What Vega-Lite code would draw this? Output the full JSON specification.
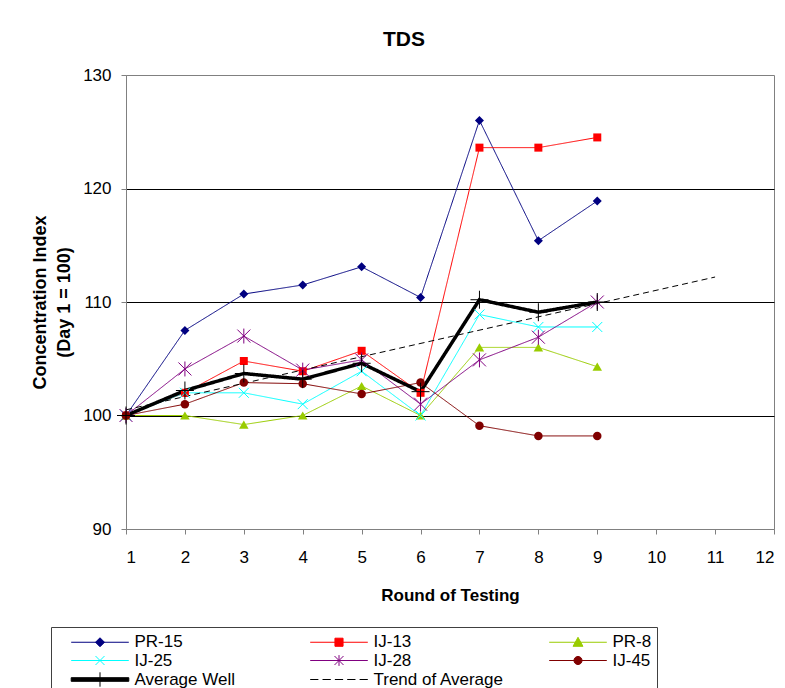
{
  "$schema": "https://vega.github.io/schema/vega-lite/v6.json",
  "width": 648,
  "height": 454,
  "autosize": {"type": "none"},
  "padding": {"left": 126, "top": 75, "right": 11, "bottom": 159},
  "background": "white",
  "title": {"text": "TDS", "font": "Liberation Sans", "fontSize": 21, "fontWeight": "bold", "color": "black", "anchor": "middle", "frame": "group", "dx": -46, "offset": -1, "baseline": "alphabetic"},
  "config": {
    "font": "Liberation Sans",
    "view": {"stroke": "#808080", "strokeWidth": 1},
    "axis": {"domainColor": "#808080", "tickColor": "#808080", "tickSize": 5, "labelColor": "black", "labelFont": "Liberation Sans", "labelFontSize": 17, "titleFont": "Liberation Sans", "titleFontSize": 18, "titleFontWeight": "bold", "titleColor": "black"}
  },
  "data": {"values": [
    {"series": "PR-15", "round": 1, "value": 100},
    {"series": "PR-15", "round": 2, "value": 107.5},
    {"series": "PR-15", "round": 3, "value": 110.7},
    {"series": "PR-15", "round": 4, "value": 111.5},
    {"series": "PR-15", "round": 5, "value": 113.1},
    {"series": "PR-15", "round": 6, "value": 110.4},
    {"series": "PR-15", "round": 7, "value": 126.0},
    {"series": "PR-15", "round": 8, "value": 115.4},
    {"series": "PR-15", "round": 9, "value": 118.9},
    {"series": "IJ-13", "round": 1, "value": 100},
    {"series": "IJ-13", "round": 2, "value": 102.0},
    {"series": "IJ-13", "round": 3, "value": 104.8},
    {"series": "IJ-13", "round": 4, "value": 103.9},
    {"series": "IJ-13", "round": 5, "value": 105.7},
    {"series": "IJ-13", "round": 6, "value": 102.0},
    {"series": "IJ-13", "round": 7, "value": 123.6},
    {"series": "IJ-13", "round": 8, "value": 123.6},
    {"series": "IJ-13", "round": 9, "value": 124.5},
    {"series": "PR-8", "round": 1, "value": 100},
    {"series": "PR-8", "round": 2, "value": 100},
    {"series": "PR-8", "round": 3, "value": 99.2},
    {"series": "PR-8", "round": 4, "value": 100},
    {"series": "PR-8", "round": 5, "value": 102.6},
    {"series": "PR-8", "round": 6, "value": 100},
    {"series": "PR-8", "round": 7, "value": 106.0},
    {"series": "PR-8", "round": 8, "value": 106.0},
    {"series": "PR-8", "round": 9, "value": 104.3},
    {"series": "IJ-25", "round": 1, "value": 100},
    {"series": "IJ-25", "round": 2, "value": 102.0},
    {"series": "IJ-25", "round": 3, "value": 102.0},
    {"series": "IJ-25", "round": 4, "value": 101.0},
    {"series": "IJ-25", "round": 5, "value": 103.9},
    {"series": "IJ-25", "round": 6, "value": 100},
    {"series": "IJ-25", "round": 7, "value": 108.9},
    {"series": "IJ-25", "round": 8, "value": 107.8},
    {"series": "IJ-25", "round": 9, "value": 107.8},
    {"series": "IJ-28", "round": 1, "value": 100},
    {"series": "IJ-28", "round": 2, "value": 104.1},
    {"series": "IJ-28", "round": 3, "value": 107.0},
    {"series": "IJ-28", "round": 4, "value": 104.0},
    {"series": "IJ-28", "round": 5, "value": 104.9},
    {"series": "IJ-28", "round": 6, "value": 101.0},
    {"series": "IJ-28", "round": 7, "value": 104.9},
    {"series": "IJ-28", "round": 8, "value": 106.9},
    {"series": "IJ-28", "round": 9, "value": 110.0},
    {"series": "IJ-45", "round": 1, "value": 100},
    {"series": "IJ-45", "round": 2, "value": 101.0},
    {"series": "IJ-45", "round": 3, "value": 102.9},
    {"series": "IJ-45", "round": 4, "value": 102.8},
    {"series": "IJ-45", "round": 5, "value": 101.9},
    {"series": "IJ-45", "round": 6, "value": 102.9},
    {"series": "IJ-45", "round": 7, "value": 99.1},
    {"series": "IJ-45", "round": 8, "value": 98.2},
    {"series": "IJ-45", "round": 9, "value": 98.2},
    {"series": "Trend of Average", "round": 1, "value": 100.5},
    {"series": "Trend of Average", "round": 11, "value": 112.2},
    {"series": "Average Well", "round": 1, "value": 100},
    {"series": "Average Well", "round": 2, "value": 102.2},
    {"series": "Average Well", "round": 3, "value": 103.7},
    {"series": "Average Well", "round": 4, "value": 103.2},
    {"series": "Average Well", "round": 5, "value": 104.6},
    {"series": "Average Well", "round": 6, "value": 102.1},
    {"series": "Average Well", "round": 7, "value": 110.2},
    {"series": "Average Well", "round": 8, "value": 109.1},
    {"series": "Average Well", "round": 9, "value": 110.0}
  ]},
  "encoding": {
    "x": {"field": "round", "type": "quantitative", "scale": {"domain": [1, 12], "nice": false, "zero": false},
      "axis": {"title": "Round of Testing", "values": [1,2,3,4,5,6,7,8,9,10,11,12], "grid": false, "labelPadding": 15, "titleBaseline": "alphabetic", "titleY": 71, "titleFontSize": 17}},
    "y": {"field": "value", "type": "quantitative", "scale": {"domain": [90, 130], "nice": false, "zero": false},
      "axis": {"title": ["Concentration Index", "(Day 1 = 100)"], "values": [90, 100, 110, 120, 130], "grid": true,
        "gridColor": {"condition": {"test": "datum.value == 90 || datum.value == 130", "value": "transparent"}, "value": "black"},
        "labelPadding": 10, "titleBaseline": "alphabetic", "titleX": -81, "titleLineHeight": 24}}
  },
  "layer": [
    {
      "mark": {"type": "line", "strokeCap": "butt"},
      "encoding": {
        "color": {"field": "series", "type": "nominal", "legend": null,
          "scale": {"domain": ["Trend of Average", "Average Well", "IJ-45", "IJ-28", "IJ-25", "PR-8", "IJ-13", "PR-15"],
            "range": ["#000000", "#000000", "#800000", "#800080", "#00FFFF", "#99CC00", "#FF0000", "#000080"]}},
        "strokeWidth": {"field": "series", "type": "nominal", "legend": null,
          "scale": {"type": "ordinal", "domain": ["Trend of Average", "Average Well", "IJ-45", "IJ-28", "IJ-25", "PR-8", "IJ-13", "PR-15"],
            "range": [1, 3.5, 1, 1, 1, 1, 1, 1]}},
        "strokeDash": {"field": "series", "type": "nominal", "legend": null,
          "scale": {"domain": ["Trend of Average", "Average Well", "IJ-45", "IJ-28", "IJ-25", "PR-8", "IJ-13", "PR-15"],
            "range": [[6, 4], [1, 0], [1, 0], [1, 0], [1, 0], [1, 0], [1, 0], [1, 0]]}}
      }
    },
    {
      "transform": [{"filter": {"field": "series", "equal": "PR-15"}}],
      "mark": {"type": "point", "shape": "diamond", "filled": true, "size": 81, "opacity": 1},
      "encoding": {"color": {"field": "series", "type": "nominal", "legend": null}}
    },
    {
      "transform": [{"filter": {"field": "series", "equal": "IJ-13"}}],
      "mark": {"type": "point", "shape": "square", "filled": true, "size": 64, "opacity": 1},
      "encoding": {"color": {"field": "series", "type": "nominal", "legend": null}}
    },
    {
      "transform": [{"filter": {"field": "series", "equal": "PR-8"}}],
      "mark": {"type": "point", "shape": "triangle-up", "filled": true, "size": 90, "opacity": 1},
      "encoding": {"color": {"field": "series", "type": "nominal", "legend": null}}
    },
    {
      "transform": [{"filter": {"field": "series", "equal": "IJ-25"}}],
      "mark": {"type": "point", "shape": "M-1,-1L1,1M-1,1L1,-1", "filled": false, "size": 100, "strokeWidth": 1, "opacity": 1},
      "encoding": {"color": {"field": "series", "type": "nominal", "legend": null}}
    },
    {
      "transform": [{"filter": {"field": "series", "equal": "IJ-28"}}],
      "mark": {"type": "point", "shape": "M-1,-1L1,1M-1,1L1,-1M0,-1.15V1.15", "filled": false, "size": 169, "strokeWidth": 1, "opacity": 1},
      "encoding": {"color": {"field": "series", "type": "nominal", "legend": null}}
    },
    {
      "transform": [{"filter": {"field": "series", "equal": "IJ-45"}}],
      "mark": {"type": "point", "shape": "circle", "filled": true, "size": 72, "opacity": 1},
      "encoding": {"color": {"field": "series", "type": "nominal", "legend": null}}
    },
    {
      "transform": [{"filter": {"field": "series", "equal": "Average Well"}}],
      "mark": {"type": "point", "shape": "M-1,0H1M0,-1V1", "filled": false, "size": 324, "strokeWidth": 1, "opacity": 1},
      "encoding": {"color": {"field": "series", "type": "nominal", "legend": null}}
    },
    {
      "mark": {"type": "point", "filled": true, "opacity": 0},
      "encoding": {
        "fill": {"field": "series", "type": "nominal",
          "scale": {"domain": ["PR-15", "IJ-13", "PR-8", "IJ-25", "IJ-28", "IJ-45", "Average Well", "Trend of Average"],
            "range": ["#000080", "#FF0000", "#99CC00", "#00FFFF", "#800080", "#800000", "#000000", "#000000"]},
          "legend": {"orient": "none", "legendX": -75, "legendY": 552, "direction": "horizontal", "columns": 3, "title": null, "symbolSize": 324, "symbolStrokeWidth": 1, "symbolOffset": 34.5, "labelOffset": 25, "labelFont": "Liberation Sans", "labelFontSize": 17, "labelColor": "black", "labelLimit": 400, "strokeColor": "#404040", "padding": 5, "columnPadding": 30, "rowPadding": -2, "gridAlign": "all", "symbolOpacity": 1}},
        "stroke": {"field": "series", "type": "nominal",
          "scale": {"domain": ["PR-15", "IJ-13", "PR-8", "IJ-25", "IJ-28", "IJ-45", "Average Well", "Trend of Average"],
            "range": ["#000080", "#FF0000", "#99CC00", "#00FFFF", "#800080", "#800000", "#000000", "#000000"]},
          "legend": {"orient": "none", "legendX": -75, "legendY": 552, "direction": "horizontal", "columns": 3, "title": null, "symbolSize": 324, "symbolStrokeWidth": 1, "symbolOffset": 34.5, "labelOffset": 25, "labelFont": "Liberation Sans", "labelFontSize": 17, "labelColor": "black", "labelLimit": 400, "strokeColor": "#404040", "padding": 5, "columnPadding": 30, "rowPadding": -2, "gridAlign": "all", "symbolOpacity": 1}},
        "shape": {"field": "series", "type": "nominal",
          "scale": {"domain": ["PR-15", "IJ-13", "PR-8", "IJ-25", "IJ-28", "IJ-45", "Average Well", "Trend of Average"],
            "range": [
              "M-3.2,0H3.2M0,-0.5L0.5,0L0,0.5L-0.5,0Z",
              "M-3.2,0H3.2M-0.45,-0.45H0.45V0.45H-0.45Z",
              "M-3.2,0H3.2M0,-0.55L0.55,0.45H-0.55Z",
              "M-3.2,0H3.2M-0.5,-0.5L0.5,0.5M-0.5,0.5L0.5,-0.5",
              "M-3.2,0H3.2M-0.5,-0.5L0.5,0.5M-0.5,0.5L0.5,-0.5M0,-0.6V0.6",
              "M-3.2,0H3.2M-0.45,0C-0.45,-0.25,-0.25,-0.45,0,-0.45C0.25,-0.45,0.45,-0.25,0.45,0C0.45,0.25,0.25,0.45,0,0.45C-0.25,0.45,-0.45,0.25,-0.45,0Z",
              "M-3.2,-0.2H3.2V0.2H-3.2ZM0,-0.8V0.8",
              "M-3.2,0H-2.29M-1.83,0H-0.91M-0.46,0H0.46M0.91,0H1.83M2.29,0H3.2"
            ]},
          "legend": {"orient": "none", "legendX": -75, "legendY": 552, "direction": "horizontal", "columns": 3, "title": null, "symbolSize": 324, "symbolStrokeWidth": 1, "symbolOffset": 34.5, "labelOffset": 25, "labelFont": "Liberation Sans", "labelFontSize": 17, "labelColor": "black", "labelLimit": 400, "strokeColor": "#404040", "padding": 5, "columnPadding": 30, "rowPadding": -2, "gridAlign": "all", "symbolOpacity": 1}}
      }
    }
  ]
}
